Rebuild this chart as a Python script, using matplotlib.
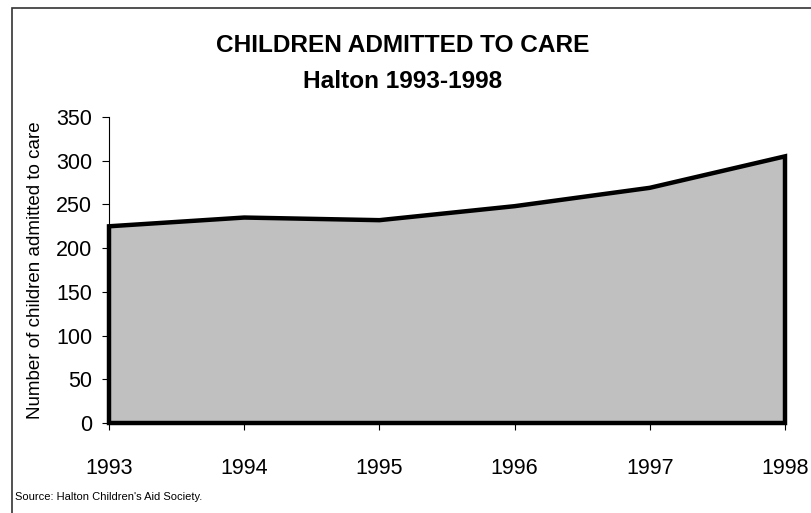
import matplotlib
matplotlib.use("Agg")
import matplotlib.pyplot as plt
from matplotlib.patches import Rectangle, Polygon

years = [1993, 1994, 1995, 1996, 1997, 1998]
admitted = [225, 235, 232, 248, 269, 305]
y_ticks = [0, 50, 100, 150, 200, 250, 300, 350]

plt.rcParams['font.family'] = ['Liberation Sans', 'DejaVu Sans']

W, H = 811, 513
fig = plt.figure(figsize=(W / 100, H / 100), dpi=100)

# outer frame around the chart area
fig.patches.append(Rectangle((12 / W, -0.1), 1.2, 1 - 8 / H + 0.1,
                             transform=fig.transFigure, fill=False,
                             edgecolor='#333333', linewidth=1.2))

ax = fig.add_axes([109 / W, 1 - 423 / H, (785 - 109) / W, (423 - 117) / H])

pts = [(years[0], 0)] + list(zip(years, admitted)) + [(years[-1], 0)]
ax.add_patch(Polygon(pts, closed=True, facecolor='#C0C0C0',
                     edgecolor='black', linewidth=3.2, joinstyle='miter',
                     zorder=2, clip_on=False))

ax.set_xlim(years[0], years[-1])
ax.set_ylim(0, 350)
ax.set_xticks(years)
ax.set_xticklabels([str(y) for y in years], fontsize=15.5)
ax.set_yticks(y_ticks)
ax.set_yticklabels([str(v) for v in y_ticks], fontsize=15.5)
ax.tick_params(axis='x', length=5, width=0.8, pad=20)
ax.tick_params(axis='y', length=5, width=0.8, pad=7)

for s in ['top', 'right']:
    ax.spines[s].set_visible(False)
ax.spines['left'].set_linewidth(0.8)
ax.spines['bottom'].set_linewidth(0.8)

ax.set_ylabel('Number of children admitted to care', fontsize=13.5)
ax.yaxis.set_label_coords(-65 / (785 - 109), 0.5)

fig.text(403 / W, 1 - 46 / H, 'CHILDREN ADMITTED TO CARE', ha='center',
         va='center', fontsize=17.6, fontweight='bold')
fig.text(403 / W, 1 - 82 / H, 'Halton 1993-1998', ha='center',
         va='center', fontsize=17.6, fontweight='bold')
fig.text(15 / W, 1 - 497 / H, "Source: Halton Children's Aid Society.",
         ha='left', va='center', fontsize=8)

fig.savefig('out.png', dpi=100)
